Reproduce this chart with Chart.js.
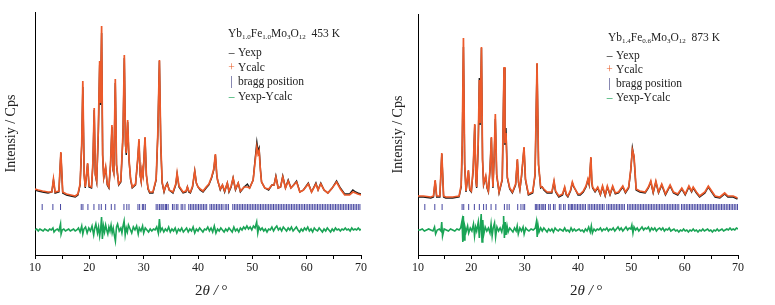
<!DOCTYPE html>
<html>
<head>
<meta charset="utf-8">
<script src="https://cdn.jsdelivr.net/npm/chart.js@4.4.1/dist/chart.umd.min.js"></script>
<style>
  body { margin: 0; background: #fff; }
  #wrap { position: relative; width: 775px; height: 305px; overflow: hidden; }
  canvas { position: absolute; top: 0; }
  .txt { position: absolute; font-family: "Liberation Serif", serif; color: #222; white-space: nowrap; }
  .leg { font-size: 11.5px; line-height: 14px; }
  .leg sub { font-size: 7px; vertical-align: -2px; line-height: 0; }
  .mk { display: inline-block; width: 9px; text-align: center; margin-right: 2px; }
  .xt { font-size: 15px; line-height: 18px; }
</style>
</head>
<body>
<div id="wrap">
  <canvas id="left" width="387" height="305" style="left:0"></canvas>
  <canvas id="right" width="388" height="305" style="left:387px"></canvas>

  <div class="txt leg" style="left:228px;top:26px">Yb<sub>1.0</sub>Fe<sub>1.0</sub>Mo<sub>3</sub>O<sub>12</sub>&nbsp;&nbsp;453 K</div>
  <div class="txt leg" style="left:227px;top:45px"><span class="mk" style="color:#111">–</span>Yexp</div>
  <div class="txt leg" style="left:227px;top:60px"><span class="mk" style="color:#e8602c">+</span>Ycalc</div>
  <div class="txt leg" style="left:227px;top:74px"><span class="mk" style="color:#33337a">|</span>bragg position</div>
  <div class="txt leg" style="left:227px;top:89px"><span class="mk" style="color:#1aa456">–</span>Yexp-Ycalc</div>

  <div class="txt leg" style="left:608px;top:30px">Yb<sub>1.4</sub>Fe<sub>0.6</sub>Mo<sub>3</sub>O<sub>12</sub>&nbsp;&nbsp;873 K</div>
  <div class="txt leg" style="left:605px;top:48px"><span class="mk" style="color:#111">–</span>Yexp</div>
  <div class="txt leg" style="left:605px;top:62px"><span class="mk" style="color:#e8602c">+</span>Ycalc</div>
  <div class="txt leg" style="left:605px;top:76px"><span class="mk" style="color:#33337a">|</span>bragg position</div>
  <div class="txt leg" style="left:605px;top:90px"><span class="mk" style="color:#1aa456">–</span>Yexp-Ycalc</div>

  <div class="txt xt" style="left:195px;top:281px">2<i>θ</i> <i>/</i> °</div>
  <div class="txt xt" style="left:570px;top:281px">2<i>θ</i> <i>/</i> °</div>
</div>

<script>
// rows: [2theta, Yexp, Ycalc]  (arbitrary intensity units)
const profileL = [
  [10.0,65,66],[10.6,64,65],[11.4,63,64],[12.4,62,63],[13.1,63,63],[13.4,75,76],[13.7,62,63],[14.4,63,64],
  [14.76,102,103],[15.1,62,63],[15.8,60,61],[16.6,59,60],[17.4,58,59],[17.9,60,61],[18.3,70,71],[18.6,110,112],
  [18.8,168,174],[19.05,80,80],[19.25,67,68],[19.68,91,92],[19.95,68,69],[20.4,67,68],[20.65,90,92],[20.9,145,147],
  [21.1,80,81],[21.35,73,74],[21.65,120,124],[21.9,190,194],[22.05,150,152],[22.26,222,229],[22.45,100,100],
  [22.65,77,78],[23.0,87,88],[23.3,70,71],[23.6,67,68],[23.9,90,91],[24.16,128,130],[24.35,85,86],[24.5,82,82],
  [24.78,172,176],[25.0,90,91],[25.4,70,71],[25.8,73,74],[26.2,120,122],[26.44,197,200],[26.65,110,112],
  [26.8,100,102],[27.05,133,135],[27.3,95,96],[27.6,75,76],[27.9,67,68],[28.5,70,71],[28.9,95,96],[29.14,114,116],
  [29.35,80,80],[29.55,73,74],[29.72,85,86],[29.9,80,80],[30.25,117,118],[30.5,80,80],[30.8,66,67],[31.1,62,63],
  [31.7,62,63],[32.3,75,76],[32.6,120,121],[32.9,194,195],[33.15,110,111],[33.4,72,73],[33.75,63,64],[34.0,68,68],
  [34.35,72,71],[34.7,65,65],[35.4,62,63],[35.9,70,71],[36.15,81,82],[36.5,68,69],[37.25,62,63],[37.8,63,64],
  [38.05,68,68],[38.3,63,64],[38.6,62,63],[39.0,68,69],[39.4,84,84],[39.7,72,72],[40.0,68,68],[40.4,65,66],
  [40.93,63,64],[41.5,67,68],[42.0,70,71],[42.5,77,78],[42.9,85,86],[43.2,100,101],[43.45,80,81],[43.6,75,75],
  [44.1,65,66],[44.5,70,70],[44.9,63,64],[45.4,72,72],[45.7,63,64],[46.1,68,69],[46.46,77,77],[46.9,65,66],
  [47.4,72,72],[47.8,63,64],[48.5,68,68],[49.1,71,68],[49.5,67,67],[50.15,75,75],[50.5,95,93],[50.83,113,108],
  [51.05,104,101],[51.25,107,104],[51.5,85,84],[51.7,73,73],[52.3,67,67],[53.0,65,66],[53.6,70,70],[54.0,70,70],
  [54.33,79,78],[54.75,67,67],[55.2,68,68],[55.6,79,78],[56.1,67,67],[56.6,75,74],[57.1,67,67],[57.6,70,70],
  [58.14,74,73],[58.75,63,63],[59.4,65,65],[60.3,72,71],[60.9,63,63],[61.7,72,71],[62.1,65,65],[62.6,72,71],
  [63.2,65,65],[63.9,62,62],[64.7,67,67],[65.5,74,73],[66.2,67,66],[67.0,61,60],[67.9,61,60],[68.5,65,63],
  [69.0,63,62],[69.4,62,61],[70.0,61,60]
];

const profileR = [
  [10.0,58,59],[11.0,58,59],[12.4,57,58],[12.9,58,59],[13.22,74,75],[13.5,58,59],[14.1,58,59],[14.46,101,102],
  [14.8,58,59],[15.2,57,58],[16.5,57,58],[17.7,58,59],[18.1,68,70],[18.3,110,115],[18.52,208,217],[18.75,90,92],
  [19.0,63,64],[19.45,84,85],[19.7,65,66],[20.0,63,64],[20.35,85,87],[20.64,130,131],[20.85,75,76],[21.0,67,68],
  [21.3,110,114],[21.5,177,175],[21.65,130,132],[21.9,207,208],[22.1,95,96],[22.3,70,71],[22.7,78,79],
  [22.95,67,68],[23.2,63,64],[23.5,85,86],[23.76,117,118],[23.95,80,81],[24.05,67,68],[24.3,100,102],
  [24.5,136,141],[24.75,80,81],[25.2,62,63],[25.8,75,76],[26.13,187,188],[26.3,110,112],[26.5,127,122],
  [26.75,77,78],[27.2,66,67],[27.7,62,63],[28.3,70,71],[28.63,95,96],[28.85,72,73],[29.1,65,66],[29.4,78,79],
  [29.88,107,108],[30.15,75,76],[30.7,60,61],[31.5,62,63],[31.95,80,81],[32.32,191,192],[32.6,90,91],
  [33.0,67,68],[33.3,68,68],[33.6,65,66],[34.2,62,63],[35.1,62,63],[35.5,73,74],[35.8,63,64],[36.4,58,59],
  [37.1,60,61],[37.5,67,68],[37.8,60,61],[38.1,58,59],[38.6,64,65],[38.94,72,73],[39.2,68,69],[39.55,65,65],
  [40.0,60,61],[40.42,60,61],[41.0,63,64],[41.5,68,69],[41.86,75,76],[42.1,70,71],[42.42,97,98],[42.6,72,73],
  [42.74,67,68],[43.2,63,64],[43.7,67,68],[44.2,60,61],[44.6,68,69],[45.1,59,60],[45.5,68,69],[46.0,60,61],
  [46.5,68,69],[47.0,61,62],[47.6,62,63],[48.4,68,69],[48.9,62,63],[49.5,67,68],[49.9,85,86],[50.2,107,105],
  [50.5,98,99],[50.9,65,66],[51.6,63,64],[52.6,62,63],[53.2,67,68],[53.65,73,74],[54.1,62,63],[54.6,73,74],
  [55.1,62,63],[55.7,70,71],[56.4,60,61],[57.27,69,70],[57.9,62,63],[58.7,60,61],[59.46,66,67],[60.1,60,61],
  [60.8,68,69],[61.3,63,64],[61.6,67,68],[62.2,62,63],[62.8,58,59],[63.8,62,63],[64.44,68,69],[65.06,63,64],
  [65.7,58,59],[66.6,57,58],[67.5,61,62],[68.1,58,59],[69.1,58,59],[69.9,56,57]
];

// difference curves: [2theta, Yexp-Ycalc + offset]
const diffL = [
  [10.0,25],[10.3,26],[10.6,24],[10.9,26],[11.2,25],[11.5,24],[11.8,26],[12.1,25],[12.4,24],[12.7,26],[13.0,25],
  [13.3,27],[13.5,23],[13.8,25],[14.1,26],[14.4,24],[14.7,31],[14.8,21],[15.0,25],[15.3,26],[15.6,24],[15.9,25],
  [16.2,26],[16.5,24],[16.8,25],[17.1,26],[17.4,24],[17.7,25],[18.0,27],[18.3,23],[18.6,29],[18.8,21],[19.0,26],
  [19.3,28],[19.6,22],[19.9,27],[20.2,24],[20.5,29],[20.8,20],[21.0,27],[21.2,31],[21.5,22],[21.7,28],[21.9,19],
  [22.1,27],[22.25,38],[22.4,16],[22.6,29],[22.8,23],[23.0,30],[23.2,25],[23.4,21],[23.6,28],[23.8,24],[24.0,30],
  [24.2,22],[24.4,27],[24.6,20],[24.8,14],[25.0,28],[25.2,31],[25.5,24],[25.8,27],[26.0,22],[26.2,29],[26.4,34],
  [26.6,20],[26.8,27],[27.0,23],[27.2,30],[27.5,26],[27.8,22],[28.1,28],[28.4,25],[28.7,29],[29.0,21],[29.2,27],
  [29.5,24],[29.8,29],[30.0,22],[30.3,27],[30.6,25],[30.9,23],[31.2,26],[31.5,24],[31.8,26],[32.1,25],[32.4,28],
  [32.7,22],[32.9,36],[33.1,24],[33.4,27],[33.7,23],[34.0,26],[34.3,24],[34.6,28],[34.9,23],[35.2,26],[35.5,24],
  [35.8,27],[36.1,22],[36.4,26],[36.7,24],[37.0,27],[37.3,23],[37.6,25],[37.9,27],[38.2,23],[38.5,26],[38.8,24],
  [39.1,28],[39.4,22],[39.7,26],[40.0,24],[40.3,27],[40.6,25],[40.9,23],[41.2,26],[41.5,25],[41.8,28],[42.1,24],
  [42.4,27],[42.7,23],[43.0,29],[43.3,22],[43.6,26],[43.9,24],[44.2,27],[44.5,25],[44.8,23],[45.1,26],[45.4,24],
  [45.7,27],[46.0,25],[46.3,23],[46.6,28],[46.9,24],[47.2,26],[47.5,23],[47.8,27],[48.1,25],[48.4,28],[48.7,26],
  [49.0,29],[49.3,26],[49.6,28],[49.9,25],[50.2,29],[50.5,27],[50.8,33],[51.0,22],[51.2,28],[51.5,25],[51.8,27],
  [52.1,24],[52.4,26],[52.7,23],[53.0,26],[53.3,25],[53.6,28],[53.9,24],[54.2,27],[54.5,29],[54.8,25],[55.1,27],
  [55.4,24],[55.7,28],[56.0,26],[56.3,24],[56.6,27],[56.9,25],[57.2,28],[57.5,24],[57.8,26],[58.1,28],[58.4,25],
  [58.7,23],[59.0,26],[59.3,24],[59.6,27],[59.9,25],[60.2,28],[60.5,24],[60.8,26],[61.1,23],[61.4,27],[61.7,25],
  [62.0,24],[62.3,27],[62.6,25],[62.9,23],[63.2,26],[63.5,24],[63.8,27],[64.1,25],[64.4,23],[64.7,26],[65.0,24],
  [65.3,27],[65.6,25],[65.9,26],[66.2,24],[66.5,26],[66.8,25],[67.1,27],[67.4,25],[67.7,26],[68.0,24],[68.3,27],
  [68.6,25],[68.9,26],[69.2,25],[69.5,27],[69.8,25],[70.0,26]
];

const diffR = [
  [10.0,25],[10.4,25],[10.8,26],[11.2,24],[11.6,25],[12.0,26],[12.4,25],[12.8,24],[13.1,28],[13.3,21],[13.6,25],
  [14.0,26],[14.3,24],[14.45,33],[14.6,19],[14.9,26],[15.3,25],[15.7,24],[16.1,26],[16.5,25],[16.9,24],[17.3,26],
  [17.7,25],[18.0,27],[18.25,34],[18.4,13],[18.5,39],[18.65,15],[18.8,28],[19.0,23],[19.3,29],[19.5,22],[19.8,27],
  [20.1,24],[20.4,31],[20.6,19],[20.8,28],[21.0,24],[21.3,33],[21.5,17],[21.7,30],[21.85,41],[22.0,13],[22.15,35],
  [22.3,20],[22.6,28],[22.9,24],[23.2,27],[23.5,22],[23.7,31],[23.9,19],[24.1,27],[24.35,32],[24.55,18],[24.8,28],
  [25.1,24],[25.4,27],[25.7,23],[25.95,30],[26.05,39],[26.2,17],[26.35,33],[26.5,20],[26.7,29],[26.9,23],[27.2,27],
  [27.5,25],[27.8,23],[28.1,27],[28.4,24],[28.6,29],[28.8,21],[29.1,27],[29.4,24],[29.7,28],[29.9,21],[30.2,27],
  [30.5,25],[30.8,24],[31.2,26],[31.6,25],[32.0,27],[32.2,33],[32.35,18],[32.5,30],[32.7,23],[33.0,27],[33.3,24],
  [33.6,27],[33.9,25],[34.2,23],[34.5,26],[34.8,24],[35.1,26],[35.4,23],[35.7,27],[36.0,25],[36.3,24],[36.6,26],
  [36.9,25],[37.2,24],[37.5,27],[37.8,24],[38.1,25],[38.4,23],[38.7,27],[39.0,24],[39.3,26],[39.6,24],[39.9,25],
  [40.2,26],[40.5,24],[40.8,25],[41.1,23],[41.4,26],[41.7,24],[42.0,28],[42.3,23],[42.5,29],[42.7,22],[43.0,26],
  [43.3,24],[43.6,26],[43.9,25],[44.2,27],[44.5,24],[44.8,26],[45.1,25],[45.4,27],[45.7,24],[46.0,26],[46.3,25],
  [46.6,27],[46.9,24],[47.2,26],[47.5,28],[47.8,25],[48.1,27],[48.4,24],[48.7,26],[49.0,28],[49.3,25],[49.6,27],
  [49.9,26],[50.1,30],[50.3,22],[50.5,28],[50.8,25],[51.1,27],[51.4,24],[51.7,26],[52.0,28],[52.3,25],[52.6,27],
  [52.9,26],[53.2,28],[53.5,24],[53.8,27],[54.1,25],[54.4,27],[54.7,24],[55.0,26],[55.3,27],[55.6,25],[55.9,27],
  [56.2,24],[56.5,26],[56.8,25],[57.1,27],[57.4,24],[57.7,25],[58.0,26],[58.3,24],[58.6,25],[58.9,23],[59.2,25],
  [59.5,24],[59.8,26],[60.1,24],[60.4,25],[60.7,23],[61.0,25],[61.3,24],[61.6,26],[61.9,24],[62.2,25],[62.5,23],
  [62.8,25],[63.1,24],[63.4,26],[63.7,24],[64.0,25],[64.3,26],[64.6,24],[64.9,25],[65.2,23],[65.5,25],[65.8,24],
  [66.1,26],[66.4,24],[66.7,25],[67.0,26],[67.3,24],[67.6,25],[67.9,26],[68.2,25],[68.5,27],[68.8,25],[69.1,26],
  [69.4,25],[69.7,27],[70.0,26]
];

// bragg reflection positions (2theta)
const braggL = [
  11.32, 13.29, 14.70, 18.51, 18.82, 19.74, 20.85, 21.77, 22.2, 23.0, 24.04, 24.7, 26.37, 26.9, 27.3,
  28.95, 29.26, 29.76, 30.0, 30.3, 32.3, 32.6, 32.9, 33.2, 33.4, 33.7, 34.0, 34.2, 34.5, 35.3, 35.6, 36.0,
  36.3, 36.9, 37.2, 37.6, 38.3, 38.6, 38.9, 39.2, 39.5, 39.8, 40.1, 40.4, 40.7, 41.0, 41.3, 41.6, 42.2,
  42.5, 42.8, 43.1, 43.4, 43.7, 44.0, 44.3, 44.6, 45.0, 45.3, 45.6, 46.4, 46.7, 47.0, 47.3, 47.6, 47.9,
  48.2, 48.5, 48.8, 49.1, 49.4, 49.7, 50.0, 50.3, 50.6, 50.9, 51.2, 51.5, 51.8, 52.1, 52.4, 52.7, 53.0,
  53.3, 53.6, 53.9, 54.2, 54.5, 54.8, 55.1, 55.4, 55.7, 56.0, 56.3, 56.6, 56.9, 57.2, 57.5, 57.8, 58.1,
  58.4, 58.7, 59.0, 59.3, 59.6, 59.9, 60.2, 60.5, 60.8, 61.1, 61.4, 61.7, 62.0, 62.3, 62.6, 62.9, 63.2,
  63.5, 63.8, 64.1, 64.4, 64.7, 65.0, 65.3, 65.6, 65.9, 66.2, 66.5, 66.8, 67.1, 67.4, 67.7, 68.0, 68.3,
  68.6, 68.9, 69.2, 69.5, 69.8
];

const braggR = [
  11.28, 13.15, 14.52, 18.27, 18.58, 19.5, 20.57, 21.5, 22.3, 22.8, 23.7, 24.6, 26.2, 26.7, 27.1, 28.7,
  29.3, 29.7, 30.0, 32.0, 32.25, 32.5, 32.8, 33.1, 33.4, 33.6, 33.9, 34.5, 34.8, 35.4, 35.7, 36.5, 36.8,
  37.3, 37.6, 38.2, 38.5, 38.8, 39.0, 39.3, 39.6, 39.9, 40.2, 40.5, 40.8, 41.1, 41.4, 41.9, 42.2, 42.5,
  42.8, 43.1, 43.4, 43.7, 44.0, 44.3, 44.6, 44.9, 45.4, 45.7, 46.0, 46.3, 46.6, 46.9, 47.2, 47.5, 47.8,
  48.1, 48.4, 48.7, 49.3, 49.6, 49.9, 50.2, 50.5, 50.8, 51.1, 51.4, 51.7, 52.0, 52.3, 52.6, 52.9, 53.2,
  53.5, 53.8, 54.1, 54.4, 54.7, 55.0, 55.3, 55.6, 55.9, 56.2, 56.5, 56.8, 57.1, 57.4, 57.7, 58.0, 58.3,
  58.6, 58.9, 59.4, 59.7, 60.0, 60.3, 60.6, 60.9, 61.2, 61.5, 61.8, 62.1, 62.4, 62.7, 63.0, 63.3, 63.6,
  63.9, 64.2, 64.5, 64.8, 65.1, 65.4, 65.7, 66.0, 66.3, 66.6, 66.9, 67.2, 67.5, 67.8, 68.1, 68.4, 68.7,
  69.0, 69.3, 69.6, 69.9
];
const braggLevel = 48;

const serif = "'Liberation Serif', 'Times New Roman', serif";

function buildPattern(canvasId, profile, diff, bragg, yAxisWidth, padRight, padTop, yMax) {
    const ctx = document.getElementById(canvasId).getContext("2d");
    return new Chart(ctx, {
        type: "scatter",
        data: {
            datasets: [
                {
                    label: "Yexp",
                    data: profile.map(r => ({ x: r[0], y: r[1] })),
                    showLine: true,
                    borderColor: "#1a1a1a",
                    borderWidth: 1.4,
                    pointRadius: 0,
                    order: 2
                },
                {
                    label: "Ycalc",
                    data: profile.map(r => ({ x: r[0], y: r[2] })),
                    showLine: true,
                    borderColor: "#ec5a2a",
                    borderWidth: 1.7,
                    pointRadius: 0,
                    order: 1
                },
                {
                    label: "bragg position",
                    data: bragg.map(x => ({ x: x, y: braggLevel })),
                    showLine: false,
                    pointStyle: "line",
                    rotation: 90,
                    pointRadius: 3,
                    borderColor: "#4646a0",
                    borderWidth: 1,
                    order: 0
                },
                {
                    label: "Yexp-Ycalc",
                    data: diff.map(r => ({ x: r[0], y: r[1] })),
                    showLine: true,
                    borderColor: "#1aa456",
                    borderWidth: 1.6,
                    pointRadius: 0,
                    order: 0
                }
            ]
        },
        options: {
            responsive: false,
            animation: false,
            devicePixelRatio: 1,
            layout: { padding: { left: 0, right: padRight, top: padTop, bottom: 0 } },
            plugins: {
                legend: { display: false },
                tooltip: { enabled: false }
            },
            scales: {
                x: {
                    type: "linear",
                    min: 10,
                    max: 70,
                    ticks: {
                        stepSize: 5,
                        autoSkip: false,
                        maxRotation: 0,
                        padding: 2,
                        color: "#222",
                        font: { family: serif, size: 12 },
                        callback: v => (v % 10 === 0 ? v : "")
                    },
                    grid: {
                        drawOnChartArea: false,
                        drawTicks: true,
                        tickLength: 4,
                        color: "#000"
                    },
                    border: { display: true, color: "#000", width: 1 },
                    afterFit: s => { s.height = 50; }
                },
                y: {
                    min: 0,
                    max: yMax,
                    ticks: { display: false },
                    grid: { display: false },
                    border: { display: true, color: "#000", width: 1 },
                    title: {
                        display: true,
                        text: "Intensiy / Cps",
                        color: "#222",
                        font: { family: serif, size: 14 },
                        padding: { top: 3, bottom: 0 }
                    },
                    afterFit: s => { s.width = yAxisWidth; }
                }
            }
        }
    });
}

buildPattern("left", profileL, diffL, braggL, 35, 26, 12, 243);
buildPattern("right", profileR, diffR, braggR, 31, 37, 14, 241);
</script>
</body>
</html>
